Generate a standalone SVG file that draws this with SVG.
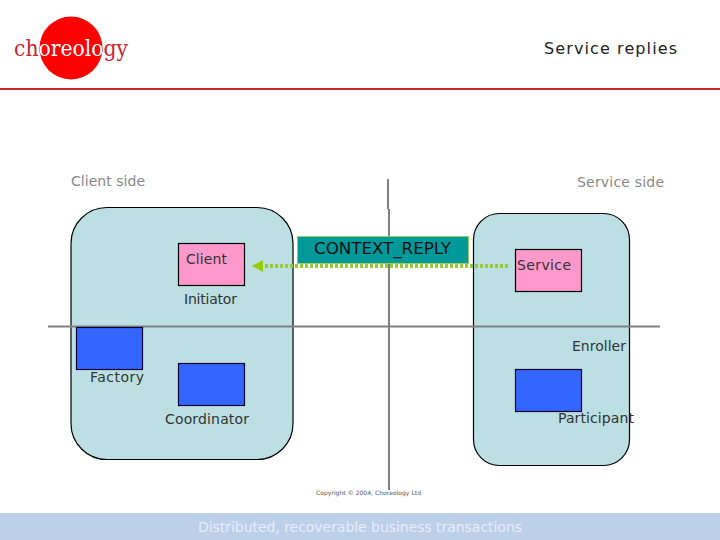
<svg xmlns="http://www.w3.org/2000/svg" width="720" height="540" viewBox="0 0 720 540">
<style>
text{font-family:"DejaVu Sans",Verdana,sans-serif;font-size:14px;fill:#333}
.g{fill:#888}
.logo{font-family:"DejaVu Serif","Liberation Serif",serif;font-size:22px;fill:#cc2233}
.side{fill:#bbdfe3;stroke:#000;stroke-width:1.2}
.pink{fill:#ff99cc;stroke:#000;stroke-width:1.2}
.blue{fill:#3366ff;stroke:#000033;stroke-width:1.2}
.rule{stroke:#808080;stroke-width:2;fill:none}
</style>
<defs>
<marker id="arr" markerUnits="userSpaceOnUse" markerWidth="12" markerHeight="14" refX="0" refY="6" orient="auto"><path d="M0 0L11 6L0 12Z" fill="#99cc00"/></marker>
<clipPath id="disc"><circle cx="71" cy="48" r="31.500"/></clipPath>
</defs>
<rect width="720" height="540" fill="#fff"/>
<g id="logo">
<circle cx="71" cy="48" r="31.500" fill="#ff0000"/>
<text class="logo" x="14" y="56" textLength="114" lengthAdjust="spacingAndGlyphs">choreology</text>
<text class="logo" x="14" y="56" textLength="114" lengthAdjust="spacingAndGlyphs" clip-path="url(#disc)" style="fill:#fff">choreology</text>
</g>
<rect x="0" y="88" width="720" height="2" fill="#cc2229"/>
<text x="544" y="54" style="font-size:16px;fill:#222" textLength="133">Service replies</text>
<text class="g" x="71" y="186" textLength="74">Client side</text>
<text class="g" x="577" y="187" textLength="87">Service side</text>
<g id="client-side"><rect class="side" x="71" y="207.500" width="222" height="252" rx="36" ry="36"/></g>
<g id="service-side"><rect class="side" x="473.500" y="213.500" width="156" height="252" rx="26" ry="26"/></g>
<g id="axes">
<path class="rule" d="M48 326.500H660"/>
<path class="rule" d="M388 179V209M389 209V490"/>
</g>
<g id="client"><rect class="pink" x="178.500" y="243.500" width="66" height="42"/><text x="186" y="264" textLength="41">Client</text></g>
<g id="service"><rect class="pink" x="515.500" y="249.500" width="66" height="42"/><text x="517" y="270" textLength="54">Service</text></g>
<g id="context-reply"><rect x="297.500" y="236.500" width="171" height="27" fill="#009999" stroke="#99cc66" stroke-width="1"/><text x="314" y="254" style="font-size:15.500px;fill:#111" textLength="137" lengthAdjust="spacingAndGlyphs">CONTEXT_REPLY</text></g>
<g id="connectors"><path d="M508 266H263" stroke="#99cc33" stroke-width="4" stroke-dasharray="3 2" fill="none" marker-end="url(#arr)"/></g>
<g id="factory"><rect class="blue" x="76.500" y="327.500" width="66" height="42"/><text x="90" y="382" textLength="54">Factory</text></g>
<g id="coordinator"><rect class="blue" x="178.500" y="363.500" width="66" height="42"/><text x="165" y="424" textLength="84">Coordinator</text></g>
<g id="participant"><rect class="blue" x="515.500" y="369.500" width="66" height="42"/><text x="558" y="423" textLength="76">Participant</text></g>
<text x="184" y="304" textLength="53">Initiator</text>
<text x="572" y="351" textLength="54">Enroller</text>
<text x="316" y="495" style="font-size:6px;fill:#555" textLength="105">Copyright © 2004, Choreology Ltd</text>
<rect x="0" y="513" width="720" height="27" fill="#bdd0e9"/>
<text x="198" y="532" style="font-size:14px;fill:#e6edf7" textLength="324">Distributed, recoverable business transactions</text>
</svg>
